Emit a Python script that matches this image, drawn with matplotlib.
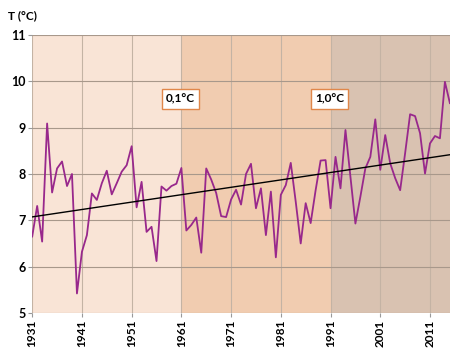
import matplotlib.pyplot as plt
import numpy as np

plt.rcParams["font.family"] = ["Lato", "DejaVu Sans"]
plt.rcParams["font.weight"] = "bold"

years = np.arange(1931, 2016)
temps = [
    6.65, 7.31, 6.54, 9.09, 7.60, 8.12, 8.27, 7.74, 8.00, 5.42,
    6.32, 6.68, 7.58, 7.44, 7.80, 8.07, 7.56, 7.80, 8.05, 8.19,
    8.60, 7.28, 7.83, 6.75, 6.86, 6.12, 7.73, 7.64, 7.74, 7.79,
    8.13, 6.78, 6.90, 7.06, 6.30, 8.12, 7.88, 7.59, 7.09, 7.07,
    7.45, 7.66, 7.34, 8.00, 8.22, 7.26, 7.69, 6.68, 7.62, 6.20,
    7.55, 7.76, 8.24, 7.40, 6.50, 7.37, 6.94, 7.65, 8.29, 8.30,
    7.26, 8.37, 7.69, 8.95, 7.94, 6.93, 7.51, 8.12, 8.37, 9.18,
    8.09, 8.84, 8.23, 7.91, 7.65, 8.45, 9.29, 9.25, 8.88, 8.01,
    8.66, 8.82, 8.77, 9.99, 9.53,
]
periods = [(1931, 1961), (1961, 1991), (1991, 2015)]
period_colors = ["#f9e4d6", "#f1ccb0", "#d9c2b1"]
box_labels = ["0,1°C", "1,0°C"]
box_years = [1961, 1991]
xticks = list(range(1931, 2012, 10))
yticks = list(range(5, 12))

fig = plt.figure(figsize=(4.6, 3.54), dpi=100, facecolor="white")
ax = fig.add_axes([0.070, 0.116, 0.908, 0.785])

for (a, b), c in zip(periods, period_colors):
    ax.axvspan(a, b, color=c, lw=0, zorder=0)

for x in xticks:
    ax.axvline(x, color="#c4b3a4", lw=0.8, zorder=1)
for y in yticks:
    ax.axhline(y, color="#a8988b", lw=0.8, zorder=1)

ax.plot(years, temps, color="#98288c", lw=1.3, zorder=3)

# linear trend over the whole record
k, b0 = np.polyfit(years, temps, 1)
ax.plot(years, k * years + b0, color="black", lw=1.0, zorder=4)

for lab, yr in zip(box_labels, box_years):
    ax.text(yr - 0.2, 9.62, lab, ha="center", va="center", fontsize=8.5,
            fontweight="bold", zorder=5,
            bbox=dict(boxstyle="square,pad=0.35", fc="white", ec="#e0874a", lw=1.0))

ax.set_xlim(1931, 2015)
ax.set_ylim(5, 11)
ax.set_xticks(xticks)
ax.set_xticklabels([str(x) for x in xticks], rotation=90, fontsize=8.5, fontweight="bold")
ax.set_yticks(yticks)
ax.set_yticklabels([str(y) for y in yticks], fontsize=9, fontweight="bold")
ax.tick_params(axis="both", length=3, color="#999999", pad=2)
for s in ax.spines.values():
    s.set_visible(False)

fig.text(0.018, 0.955, "T (°C)", fontsize=8.5, fontweight="bold", va="center", ha="left")

fig.savefig("out.png", dpi=100, facecolor="white")
